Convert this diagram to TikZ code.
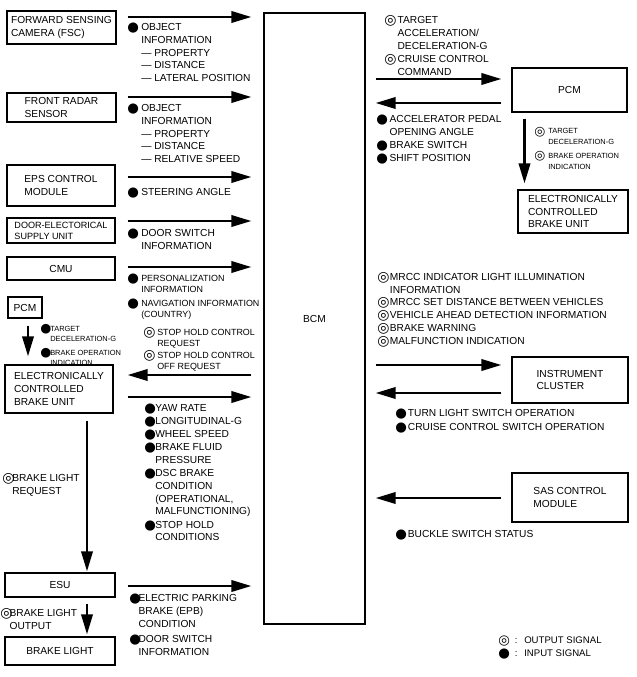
\documentclass[tikz,border=0pt]{standalone}
\usepackage{fontspec}
\setmainfont{Liberation Sans}
\newfontfamily\symf{DejaVu Sans}
\usetikzlibrary{arrows.meta,calc}
\newcommand\fA{\fontsize{7.65}{9.6}\selectfont}
\newcommand\fB{\fontsize{6.7}{8.5}\selectfont}
\newcommand\fC{\fontsize{5.6}{7.9}\selectfont}
\newcommand\dotI[1]{\raisebox{-1pt}{\symf\fontsize{#1}{#1}\selectfont ●}}
\newcommand\dotO[1]{\raisebox{-1.1pt}{\symf\fontsize{#1}{#1}\selectfont ◎}}
\newcommand\sig[3]{\makebox[#2][l]{#1}\begin{tabular}[t]{@{}l@{}}#3\end{tabular}}
\begin{document}
\begin{tikzpicture}[x=0.75pt,y=-0.75pt,
  box/.style={draw,line width=0.9pt,inner sep=0pt,align=left,font=\fA},
  sz/.style 2 args={minimum width=#1*0.75pt,minimum height=#2*0.75pt},
  arr/.style={line width=1.9pt,-{Triangle[length=15pt,width=8.5pt]}},
  lab/.style={anchor=base west,inner sep=0pt,font=\fA},
  labs/.style={lab,font=\fB},
  labt/.style={lab,font=\fC}]
\useasboundingbox (0,0) rectangle (636,677);
% boxes
\node[box,sz={109}{33}] (fsc) at (61.5,27.5) {FORWARD SENSING\\CAMERA (FSC)};
\node[box,sz={109}{29}] (radar) at (61.5,107.5) {FRONT RADAR\\SENSOR};
\node[box,sz={108}{41}] (eps) at (61,185.5) {EPS CONTROL\\MODULE};
\node[box,sz={108}{25},font={\fontsize{6.8}{8.2}\selectfont}] (door) at (61,230.5) {DOOR-ELECTORICAL\\SUPPLY UNIT};
\node[box,sz={108}{23}] (cmu) at (61,268.5) {CMU};
\node[box,sz={34}{21}] (pcmL) at (25,307.5) {PCM};
\node[box,sz={108}{48}] (ecbuL) at (59,389) {ELECTRONICALLY\\CONTROLLED\\BRAKE UNIT};
\node[box,sz={110}{24}] (esu) at (60,585) {ESU};
\node[box,sz={110}{28}] (bl) at (60,651) {BRAKE LIGHT};
\node[box,sz={101}{611}] (bcm) at (314.5,318.5) {BCM};
\node[box,sz={115}{44}] (pcmR) at (569.5,90) {PCM};
\node[box,sz={110}{43}] (ecbuR) at (573,211.5) {ELECTRONICALLY\\CONTROLLED\\BRAKE UNIT};
\node[box,sz={116}{46}] (ic) at (570,380) {INSTRUMENT\\CLUSTER};
\node[box,sz={116}{49}] (sas) at (570,497.5) {SAS CONTROL\\MODULE};
% arrows left side
\draw[arr] ($(fsc.east)+(11,-10.5)$) -- ($(bcm.west|-fsc.east)+(-12,-10.5)$);
\draw[arr] ($(radar.east)+(11,-10.5)$) -- ($(bcm.west|-radar.east)+(-12,-10.5)$);
\draw[arr] ($(eps.east)+(12,-8.5)$) -- ($(bcm.west|-eps.east)+(-12,-8.5)$);
\draw[arr] ($(door.east)+(12,-9.5)$) -- ($(bcm.west|-door.east)+(-12,-9.5)$);
\draw[arr] ($(cmu.east)+(12,-1.5)$) -- ($(bcm.west|-cmu.east)+(-12,-1.5)$);
\draw[arr] ($(pcmL.south)+(3,7)$) -- ($(pcmL.south|-ecbuL.north)+(3,-8)$);
\draw[arr] ($(bcm.west|-ecbuL.east)+(-12,-14)$) -- ($(ecbuL.east)+(14,-14)$);
\draw[arr] ($(ecbuL.east)+(14,8)$) -- ($(bcm.west|-ecbuL.east)+(-12,8)$);
\draw[arr] ($(ecbuL.south)+(28,7)$) -- ($(ecbuL.south|-esu.north)+(28,-1)$);
\draw[arr] ($(esu.east)+(12,1)$) -- ($(bcm.west|-esu.east)+(-12,1)$);
\draw[arr] ($(esu.south)+(27,6)$) -- ($(esu.south|-bl.north)+(27,-2)$);
% arrows right side
\draw[arr] ($(bcm.east|-pcmR.west)+(10,-11)$) -- ($(pcmR.west)+(-10,-11)$);
\draw[arr] ($(pcmR.west)+(-10,13)$) -- ($(bcm.east|-pcmR.west)+(10,13)$);
\draw[arr] ($(pcmR.south)+(-45,6)$) -- ($(pcmR.south|-ecbuR.north)+(-45,-6)$);
\draw[arr] ($(bcm.east|-ic.west)+(10,-15)$) -- ($(ic.west)+(-10,-15)$);
\draw[arr] ($(ic.west)+(-10,13)$) -- ($(bcm.east|-ic.west)+(10,13)$);
\draw[arr] ($(sas.west)+(-10,0.5)$) -- ($(bcm.east|-sas.west)+(10,0.5)$);
% labels left
\node[lab] (l1) at (127,30.5) {\sig{\dotI{10}}{10.5pt}{OBJECT\\INFORMATION\\— PROPERTY\\— DISTANCE\\— LATERAL POSITION}};
\node[lab] (l2) at (127,111.5) {\sig{\dotI{10}}{10.5pt}{OBJECT\\INFORMATION\\— PROPERTY\\— DISTANCE\\— RELATIVE SPEED}};
\node[lab] (l3) at (127,195.5) {\sig{\dotI{10}}{10.5pt}{STEERING ANGLE}};
\node[lab] (l4) at (127,236.5) {\sig{\dotI{10}}{10.5pt}{DOOR SWITCH\\INFORMATION}};
\node[labs] (l5) at (127,281) {\sig{\dotI{10}}{10.5pt}{PERSONALIZATION\\INFORMATION}};
\node[labs] (l6) at (127,306) {\sig{\dotI{10}}{10.5pt}{NAVIGATION INFORMATION\\(COUNTRY)}};
\node[labt] (l7) at (40,331) {\sig{\dotI{9.5}}{7.5pt}{TARGET\\DECELERATION-G}};
\node[labt] (l8) at (40,355) {\sig{\dotI{9.5}}{7.5pt}{BRAKE OPERATION\\INDICATION}};
\node[labs] (l9) at (143,335) {\sig{\dotO{10.5}}{10.5pt}{STOP HOLD CONTROL\\REQUEST}};
\node[labs] (l10) at (143,358) {\sig{\dotO{10.5}}{10.5pt}{STOP HOLD CONTROL\\OFF REQUEST}};
\node[lab] (l11) at (144,411.5) {\sig{\dotI{10}}{8.3pt}{YAW RATE}};
\node[lab] (l12) at (144,424.5) {\sig{\dotI{10}}{8.3pt}{LONGITUDINAL-G}};
\node[lab] (l13) at (144,437.5) {\sig{\dotI{10}}{8.3pt}{WHEEL SPEED}};
\node[lab] (l14) at (144,450.5) {\sig{\dotI{10}}{8.3pt}{BRAKE FLUID\\PRESSURE}};
\node[lab] (l15) at (144,476.5) {\sig{\dotI{10}}{8.3pt}{DSC BRAKE\\CONDITION\\(OPERATIONAL,\\MALFUNCTIONING)}};
\node[lab] (l16) at (144,528) {\sig{\dotI{10}}{8.3pt}{STOP HOLD\\CONDITIONS}};
\node[lab] (l17) at (2,481.5) {\sig{\dotO{10.5}}{7.5pt}{BRAKE LIGHT\\REQUEST}};
\node[lab] (l18) at (129,601.5) {\sig{\dotI{10}}{7pt}{ELECTRIC PARKING\\BRAKE (EPB)\\CONDITION}};
\node[lab] (l19) at (129,642.5) {\sig{\dotI{10}}{7pt}{DOOR SWITCH\\INFORMATION}};
\node[lab] (l20) at (0,616.5) {\sig{\dotO{10.5}}{7pt}{BRAKE LIGHT\\OUTPUT}};
% labels right
\node[lab] (l21) at (384,23.5) {\sig{\dotO{10.5}}{10pt}{TARGET\\ACCELERATION/\\DECELERATION-G}};
\node[lab] (l22) at (384,62.5) {\sig{\dotO{10.5}}{10pt}{CRUISE CONTROL\\COMMAND}};
\node[lab] (l23) at (376,122.5) {\sig{\dotI{10}}{10pt}{ACCELERATOR PEDAL\\OPENING ANGLE}};
\node[lab] (l24) at (376,148.5) {\sig{\dotI{10}}{10pt}{BRAKE SWITCH}};
\node[lab] (l25) at (376,161.5) {\sig{\dotI{10}}{10pt}{SHIFT POSITION}};
\node[labt] (l26) at (534,134) {\sig{\dotO{9.5}}{10.5pt}{TARGET\\DECELERATION-G}};
\node[labt] (l27) at (534,158.5) {\sig{\dotO{9.5}}{10.5pt}{BRAKE OPERATION\\INDICATION}};
\node[lab] (l28) at (377,280.5) {\sig{\dotO{10.5}}{9.5pt}{MRCC INDICATOR LIGHT ILLUMINATION\\INFORMATION}};
\node[lab] (l29) at (377,305.5) {\sig{\dotO{10.5}}{9.5pt}{MRCC SET DISTANCE BETWEEN VEHICLES}};
\node[lab] (l30) at (377,318.5) {\sig{\dotO{10.5}}{9.5pt}{VEHICLE AHEAD DETECTION INFORMATION}};
\node[lab] (l31) at (377,331.5) {\sig{\dotO{10.5}}{9.5pt}{BRAKE WARNING}};
\node[lab] (l32) at (377,344.5) {\sig{\dotO{10.5}}{9.5pt}{MALFUNCTION INDICATION}};
\node[lab] (l33) at (395,416.5) {\sig{\dotI{10}}{9.5pt}{TURN LIGHT SWITCH OPERATION}};
\node[lab] (l34) at (395,430.5) {\sig{\dotI{10}}{9.5pt}{CRUISE CONTROL SWITCH OPERATION}};
\node[lab] (l35) at (395,537.5) {\sig{\dotI{10}}{9.5pt}{BUCKLE SWITCH STATUS}};
\node[lab,font={\fontsize{7.2}{8.2}\selectfont}] (l36) at (498,643) {\sig{\dotO{10}}{12.5pt}{:\hspace{5pt}OUTPUT SIGNAL}};
\node[lab,font={\fontsize{7.2}{8.2}\selectfont}] (l37) at (498,656) {\sig{\dotI{10}}{12.5pt}{:\hspace{5pt}INPUT SIGNAL}};
\end{tikzpicture}
\end{document}
